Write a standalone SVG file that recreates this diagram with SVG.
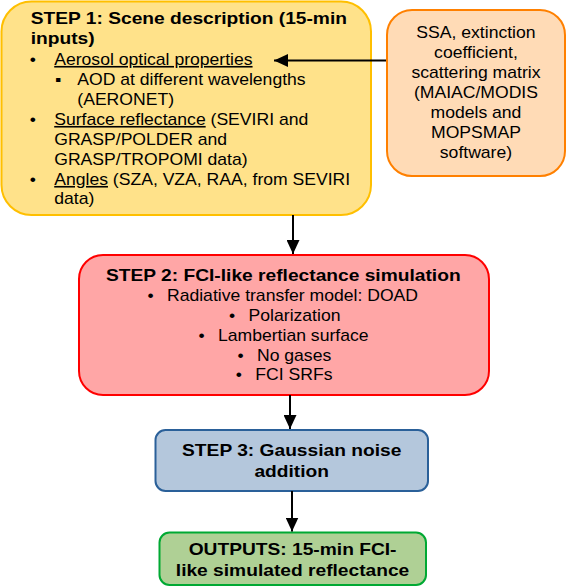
<svg xmlns="http://www.w3.org/2000/svg" width="567" height="587" viewBox="0 0 567 587">
<style>
.r{font-family:"Liberation Sans",Arial,sans-serif;font-size:16px;fill:#000}
.b{font-family:"Liberation Sans",Arial,sans-serif;font-size:16px;font-weight:bold;fill:#000}
.m{text-anchor:middle}
.u{text-decoration:underline}
.box{stroke-width:2}
.conn{stroke:#000;stroke-width:2;fill:none;marker-end:url(#ah)}
</style>
<defs>
<marker id="ah" markerUnits="userSpaceOnUse" markerWidth="14" markerHeight="13" viewBox="0 0 14 13" refX="14" refY="6.5" orient="auto">
<path d="M0,0 L14,6.5 L0,13 z" fill="#000"/>
</marker>
</defs>
<g id="step1">
<rect class="box" x="1.5" y="1.5" width="369.5" height="213.5" rx="30" fill="#ffe28a" stroke="#ffbf00"/>
<g transform="scale(1.2 1)" class="b">
<text x="25.6" y="24">STEP 1: Scene description (15-min</text>
<text x="25.6" y="44">inputs)</text>
</g>
<g transform="scale(1.1 1)" class="r">
<text x="27" y="65">•</text>
<text x="49.3" y="65"><tspan class="u">Aerosol optical properties</tspan></text>
<text x="50" y="85">▪</text>
<text x="70.3" y="85">AOD at different wavelengths</text>
<text x="70.3" y="105">(AERONET)</text>
<text x="27" y="125">•</text>
<text x="49.3" y="125"><tspan class="u">Surface reflectance</tspan> (SEVIRI and</text>
<text x="49.3" y="145">GRASP/POLDER and</text>
<text x="49.3" y="165">GRASP/TROPOMI data)</text>
<text x="27" y="185">•</text>
<text x="49.3" y="185"><tspan class="u">Angles</tspan> (SZA, VZA, RAA, from SEVIRI</text>
<text x="49.3" y="204.5">data)</text>
</g>
</g>
<g id="aerosol-source">
<rect class="box" x="387" y="10" width="178" height="166" rx="25" fill="#ffdbb6" stroke="#ff8000"/>
<g transform="scale(1.1 1)" class="r m">
<text x="432.7" y="38.5">SSA, extinction</text>
<text x="432.7" y="58.5">coefficient,</text>
<text x="432.7" y="78.5">scattering matrix</text>
<text x="432.7" y="98.5">(MAIAC/MODIS</text>
<text x="432.7" y="118.5">models and</text>
<text x="432.7" y="138.5">MOPSMAP</text>
<text x="432.7" y="158.5">software)</text>
</g>
</g>
<g id="step2">
<rect class="box" x="79" y="255" width="410" height="140" rx="24" fill="#ffa6a6" stroke="#ff0000"/>
<g transform="scale(1.2 1)" class="b m">
<text x="236.1" y="281">STEP 2: FCI-like reflectance simulation</text>
</g>
<g transform="scale(1.1 1)" class="r">
<text x="134.1" y="301">•</text>
<text x="151.8" y="301">Radiative transfer model: DOAD</text>
<text x="208.3" y="321">•</text>
<text x="226" y="321">Polarization</text>
<text x="180.5" y="341">•</text>
<text x="198.2" y="341">Lambertian surface</text>
<text x="215.9" y="361">•</text>
<text x="233.6" y="361">No gases</text>
<text x="214.4" y="380.5">•</text>
<text x="232.1" y="380.5">FCI SRFs</text>
</g>
</g>
<g id="step3">
<rect class="box" x="155.5" y="430" width="272.5" height="61" rx="10" fill="#b4c7dc" stroke="#2a6099"/>
<g transform="scale(1.2 1)" class="b m">
<text x="243.1" y="456">STEP 3: Gaussian noise</text>
<text x="243.1" y="477">addition</text>
</g>
</g>
<g id="outputs">
<rect class="box" x="159.5" y="532.5" width="266.5" height="52.5" rx="10" fill="#afd095" stroke="#00a933"/>
<g transform="scale(1.2 1)" class="b m">
<text x="243.8" y="555">OUTPUTS: 15-min FCI-</text>
<text x="243.8" y="576">like simulated reflectance</text>
</g>
</g>
<g id="connectors">
<path class="conn" d="M386,60.5 L274,60.5"/>
<path class="conn" d="M293,215 L293,254"/>
<path class="conn" d="M290,395 L290,429"/>
<path class="conn" d="M292,491 L292,531.5"/>
</g>
</svg>
